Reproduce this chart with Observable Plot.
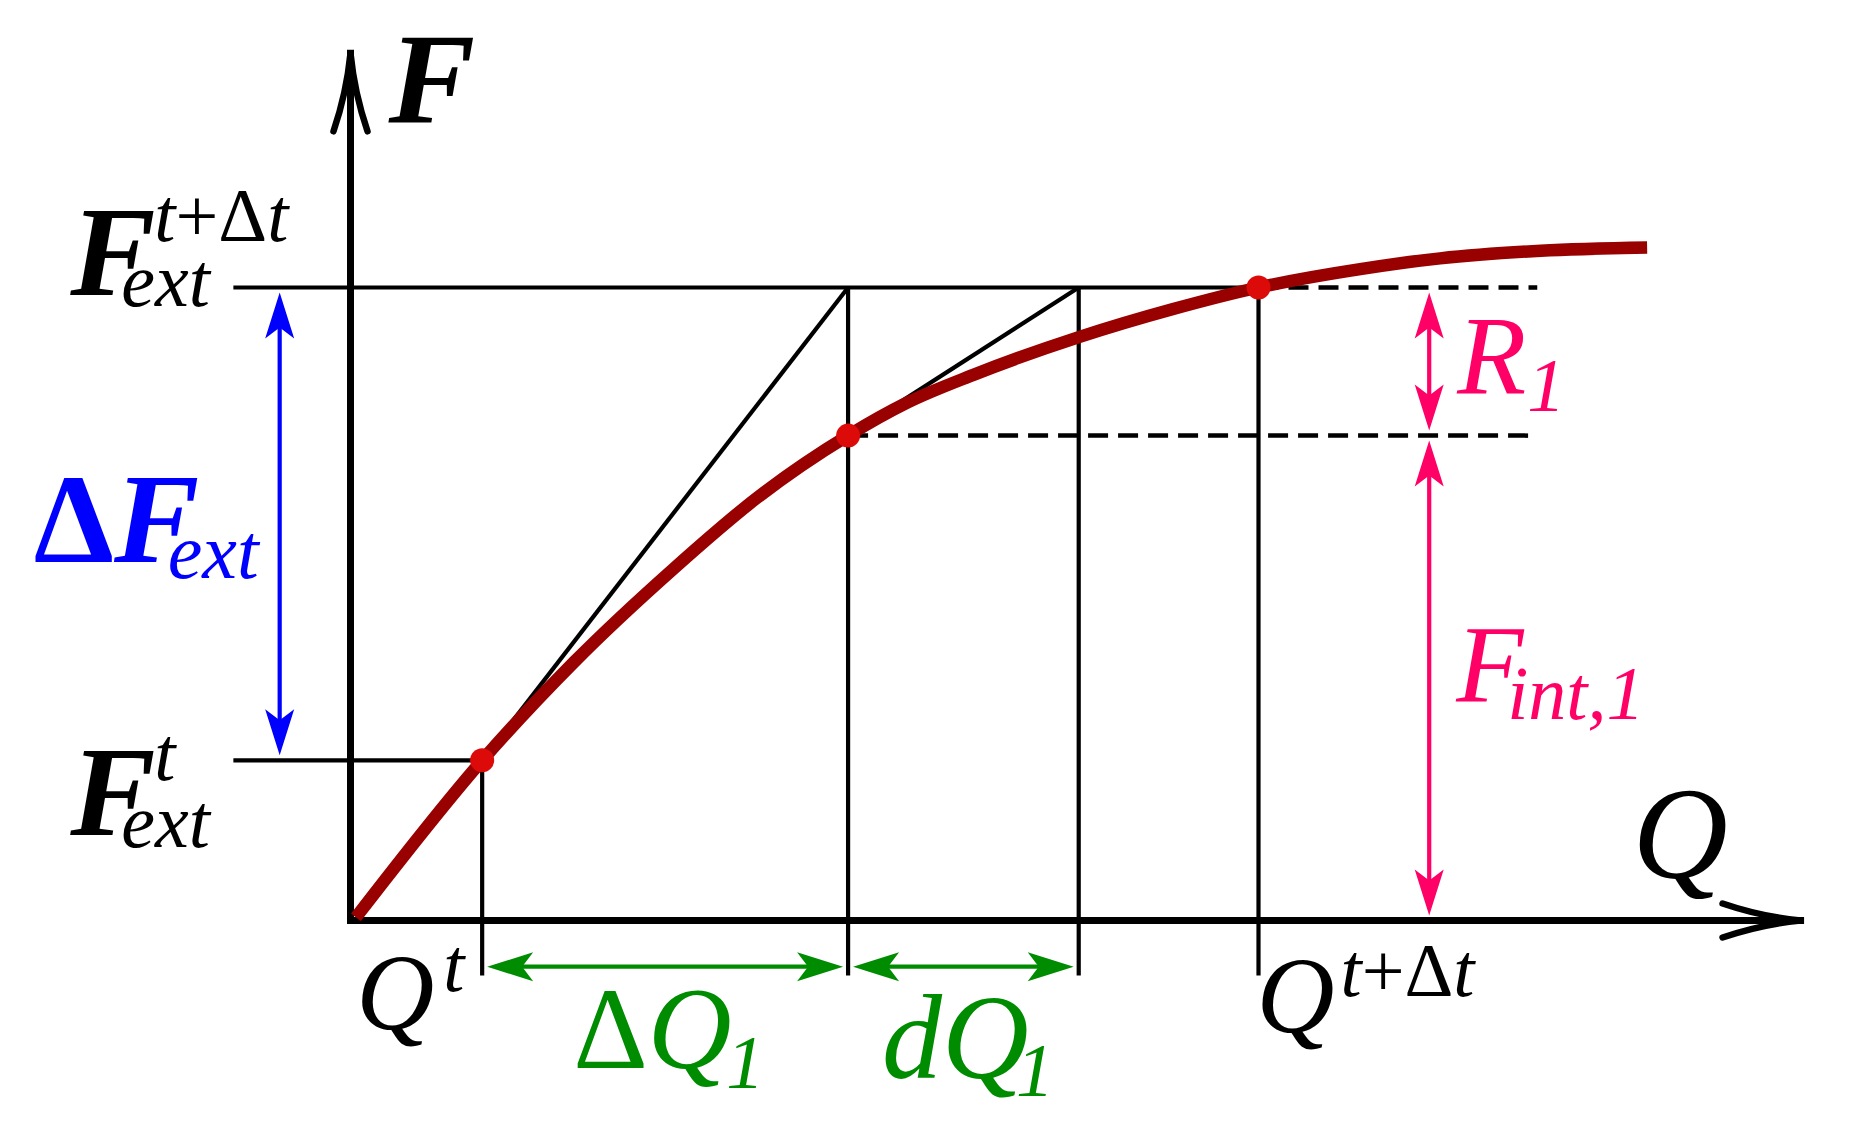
<!DOCTYPE html>
<html>
<head>
<meta charset="utf-8">
<script src="https://cdn.jsdelivr.net/npm/d3@7"></script>
<script src="https://cdn.jsdelivr.net/npm/@observablehq/plot@0.6"></script>
<style>
  html, body { margin: 0; padding: 0; background: #fff; }
  #chart { width: 1854px; height: 1123px; }
</style>
</head>
<body>
<div id="chart"></div>
<script>
// ---------------- data (normalised: Q^{t+Δt} = 1, F_ext^{t+Δt} = 1) ----------------
const qNames = ["Q^t", "Q^t + ΔQ_1", "Q^t + ΔQ_1 + dQ_1", "Q^{t+Δt}"];
const qValues = [0.145, 0.548, 0.802, 1.0];
const fNames = ["F_ext^t", "F_int,1", "F_ext^{t+Δt}"];
const fValues = [0.253, 0.766, 1.0];
const curveQ = [0.006, 0.145, 0.246, 0.356, 0.448, 0.548, 0.613, 0.686, 0.803, 0.906, 1.0, 1.112, 1.200, 1.311, 1.428];
const curveF = [0.005, 0.253, 0.408, 0.556, 0.668, 0.766, 0.818, 0.862, 0.922, 0.966, 1.0, 1.029, 1.046, 1.058, 1.063];

// ---------------- layout extents (in data units) ----------------
const axisMaxQ = 1.597, axisMaxF = 1.370;
const guideStartQ = -0.129, tickEndF = -0.087, dashEndQ = 1.307;
const blueQ = -0.078, pinkQ = 1.188, greenF = -0.073;

// ---------------- styles ----------------
const C = {black: "#000", curve: "#990000", dot: "#dd0a0a", blue: "#0000ff", pink: "#ff0066", green: "#008c00"};
const FONT = "'Liberation Serif', 'Times New Roman', serif";

const [qT, q1, q2, qTdt] = qValues;
const [fT, fInt, fTdt] = fValues;
const curve = curveQ.map((q, i) => ({q, f: curveF[i]}));

// filled stealth arrowhead (tip slightly off the anchor)
function headSymbol(dir) {
  const L = 46, W = 14.5, N = 35, G = 5;
  const pts = [[0, G], [W, G + L], [0, G + N], [-W, G + L]];
  const tf = {up: ([x, y]) => [x, y], down: ([x, y]) => [x, -y], left: ([x, y]) => [y, x], right: ([x, y]) => [-y, x]}[dir];
  return {draw(ctx) { const p = pts.map(tf); ctx.moveTo(p[0][0], p[0][1]); for (let i = 1; i < p.length; i++) ctx.lineTo(p[i][0], p[i][1]); ctx.closePath(); }};
}
// open curved axis arrowhead (tip at anchor)
function openHead(dir) {
  const L = 78, W = 17;
  const raw = [[-W, L], [-4, 40], [0, 0], [4, 40], [W, L]];
  const tf = {up: ([x, y]) => [x, y], right: ([x, y]) => [-y, x]}[dir];
  return {draw(ctx) { const p = raw.map(tf); ctx.moveTo(p[0][0], p[0][1]); ctx.quadraticCurveTo(p[1][0], p[1][1], p[2][0], p[2][1]); ctx.quadraticCurveTo(p[3][0], p[3][1], p[4][0], p[4][1]); }};
}

function seg(x1, y1, x2, y2) { return {x1, y1, x2, y2}; }

// label part: text anchored at data point with pixel offsets; "|...|" marks upright pieces
function part(xv, yv, text, o) {
  return Plot.text([{x: xv, y: yv, t: text}], {
    x: "x", y: "y", text: "t", textAnchor: "start", lineAnchor: "bottom",
    fontFamily: FONT, fontStyle: "italic", fontWeight: o.bold ? "bold" : "normal",
    fontSize: o.size, fill: o.color || C.black, dx: o.dx, dy: o.dy
  });
}

const SUB = 76;

const guides = [
  seg(guideStartQ, fTdt, qTdt, fTdt),
  seg(guideStartQ, fT, qT, fT),
  seg(qT, fT, qT, tickEndF),
  seg(q1, fTdt, q1, tickEndF),
  seg(q2, fTdt, q2, tickEndF),
  seg(qTdt, fTdt, qTdt, tickEndF),
  seg(qT, fT, q1, fTdt),      // secant
  seg(q1, fInt, q2, fTdt)     // tangent
];
const dashed = [seg(qTdt, fTdt, dashEndQ, fTdt), seg(q1, fInt, dashEndQ, fInt)];

const arrows = [
  {...seg(blueQ, fTdt, blueQ, fT), c: C.blue, a: "v"},
  {...seg(pinkQ, fTdt, pinkQ, fInt), c: C.pink, a: "v"},
  {...seg(pinkQ, fInt, pinkQ, 0), c: C.pink, a: "v"},
  {...seg(qT, greenF, q1, greenF), c: C.green, a: "h"},
  {...seg(q1, greenF, q2, greenF), c: C.green, a: "h"}
];
const heads = [];
for (const a of arrows) {
  if (a.a === "v") { heads.push({x: a.x1, y: a.y1, c: a.c, d: "up"}, {x: a.x2, y: a.y2, c: a.c, d: "down"}); }
  else { heads.push({x: a.x1, y: a.y1, c: a.c, d: "left"}, {x: a.x2, y: a.y2, c: a.c, d: "right"}); }
}

const plot = Plot.plot({
  width: 1854,
  height: 1123,
  margin: 0,
  axis: null,
  x: {domain: [0, 1], range: [350, 1258]},
  y: {domain: [0, 1], range: [920, 287]},
  style: {background: "#fff", overflow: "visible"},
  marks: [
    // guide lines
    Plot.link(guides, {x1: "x1", y1: "y1", x2: "x2", y2: "y2", stroke: C.black, strokeWidth: 4.2, strokeLinecap: "butt"}),
    Plot.link(dashed, {x1: "x1", y1: "y1", x2: "x2", y2: "y2", stroke: C.black, strokeWidth: 4.5, strokeDasharray: "20,10", strokeLinecap: "butt"}),
    // axes
    Plot.link([seg(0, 0, axisMaxQ, 0), seg(0, 0, 0, axisMaxF)], {x1: "x1", y1: "y1", x2: "x2", y2: "y2", stroke: C.black, strokeWidth: 7, strokeLinecap: "square"}),
    Plot.dot([{x: 0, y: axisMaxF}], {x: "x", y: "y", symbol: openHead("up"), fill: "none", stroke: C.black, strokeWidth: 6.5, strokeLinecap: "round"}),
    Plot.dot([{x: axisMaxQ, y: 0}], {x: "x", y: "y", symbol: openHead("right"), fill: "none", stroke: C.black, strokeWidth: 6.5, strokeLinecap: "round"}),
    // curve
    Plot.line(curve, {x: "q", y: "f", curve: "monotone-x", stroke: C.curve, strokeWidth: 12.5, strokeLinecap: "butt"}),
    Plot.dot([{q: qT, f: fT}, {q: q1, f: fInt}, {q: qTdt, f: fTdt}], {x: "q", y: "f", r: 12, fill: C.dot, stroke: "none"}),
    // coloured dimension arrows
    Plot.arrow(arrows, {x1: "x1", y1: "y1", x2: "x2", y2: "y2", stroke: "c", strokeWidth: 4.2, headLength: 0, insetStart: 25, insetEnd: 25}),
    ...["up", "down", "left", "right"].map(d => Plot.dot(heads.filter(h => h.d === d), {x: "x", y: "y", fill: "c", stroke: "none", symbol: headSymbol(d)})),
    // labels
    part(0, axisMaxF, "F", {size: 130, bold: true, dx: 38, dy: 69}),
    part(guideStartQ, fTdt, "F", {size: 128, bold: true, dx: -163, dy: 7}),
    part(guideStartQ, fTdt, "ext", {size: SUB, dx: -112, dy: 18}),
    part(guideStartQ, fTdt, "t|+Δ|t", {size: SUB, dx: -79, dy: -47}),
    part(guideStartQ, fT, "F", {size: 128, bold: true, dx: -163, dy: 75}),
    part(guideStartQ, fT, "ext", {size: SUB, dx: -112, dy: 87}),
    part(guideStartQ, fT, "t", {size: SUB, dx: -79, dy: 20}),
    part(blueQ, fT, "|Δ|F", {size: 128, bold: true, color: C.blue, dx: -246, dy: -198}),
    part(blueQ, fT, "ext", {size: SUB + 2, color: C.blue, dx: -112, dy: -182}),
    part(qT, 0, "Q", {size: 108, dx: -126, dy: 108}),
    part(qT, 0, "t", {size: SUB, dx: -39, dy: 70}),
    part(qTdt, 0, "Q", {size: 108, dx: -2, dy: 111}),
    part(qTdt, 0, "t|+Δ|t", {size: SUB, dx: 82, dy: 75}),
    part(axisMaxQ, 0, "Q", {size: 132, dx: -168, dy: -43}),
    part(qT, 0, "|Δ|Q", {size: 116, color: C.green, dx: 91, dy: 147}),
    part(qT, 0, "1", {size: SUB, color: C.green, dx: 244, dy: 167}),
    part(q1, 0, "dQ", {size: 120, color: C.green, dx: 34, dy: 157}),
    part(q1, 0, "1", {size: SUB, color: C.green, dx: 168, dy: 175}),
    part(pinkQ, fTdt, "R", {size: 113, color: C.pink, dx: 28, dy: 105}),
    part(pinkQ, fTdt, "1", {size: SUB, color: C.pink, dx: 98, dy: 123}),
    part(pinkQ, fInt, "F", {size: 110, color: C.pink, dx: 27, dy: 265}),
    part(pinkQ, fInt, "int,1", {size: SUB, color: C.pink, dx: 78, dy: 283})
  ]
});

// upright pieces inside labels ("|...|")
const NS = "http://www.w3.org/2000/svg";
plot.querySelectorAll("text").forEach(t => {
  const s = t.textContent;
  if (!s.includes("|")) return;
  const segs = s.split("|");
  while (t.firstChild) t.removeChild(t.firstChild);
  segs.forEach((p, i) => {
    if (!p) return;
    const ts = document.createElementNS(NS, "tspan");
    ts.textContent = p;
    if (i % 2 === 1) ts.setAttribute("font-style", "normal");
    t.appendChild(ts);
  });
});

document.getElementById("chart").appendChild(plot);
</script>
</body>
</html>
